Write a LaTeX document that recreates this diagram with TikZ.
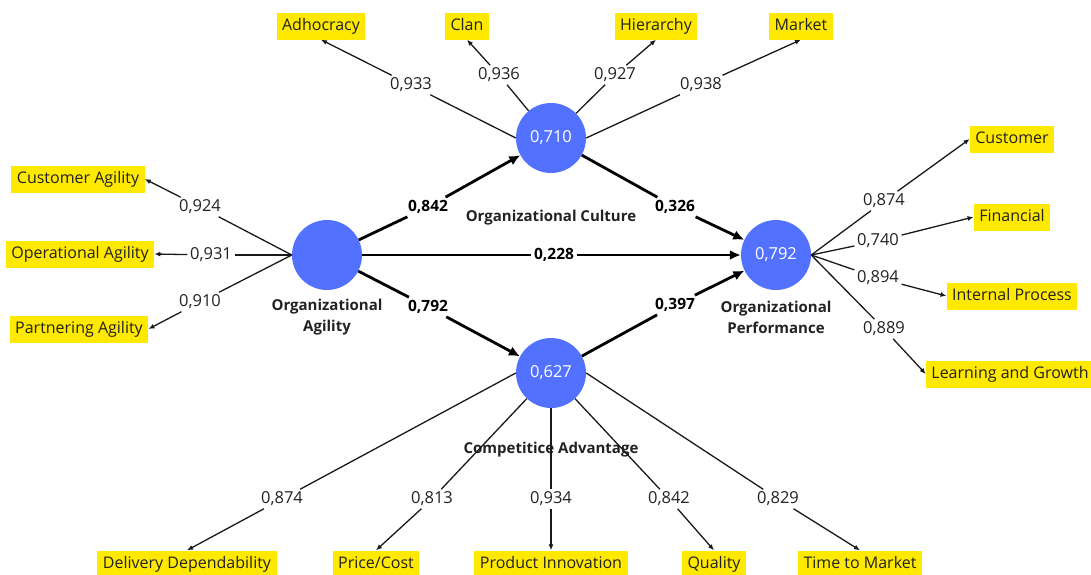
\documentclass[tikz,border=0pt]{standalone}
\usepackage{fontspec}
\setmainfont{Open Sans}
\usetikzlibrary{arrows.meta}
\definecolor{latentblue}{HTML}{5271FF}
\definecolor{itemyellow}{HTML}{FFE900}
\definecolor{ink}{HTML}{222222}

\begin{document}
\begin{tikzpicture}[x=1pt,y=-1pt,
    font=\fontsize{16}{19}\selectfont,
    latent/.style={circle,fill=latentblue,minimum size=70pt,inner sep=0pt,text=white,font=\fontsize{16.5}{19}\selectfont},
    item/.style={fill=itemyellow,text height=12pt,text depth=4pt,inner xsep=5.5pt,inner ysep=5.5pt,text=ink},
    load/.style={inner sep=2.5pt,text=ink,font=\fontsize{16.5}{19}\selectfont},
    coef/.style={inner sep=3pt,text=black,font=\fontsize{15.5}{18}\selectfont\bfseries},
    cname/.style={align=center,text=ink,font=\fontsize{15}{21}\selectfont\bfseries},
    lnk/.style={line width=1.3pt,draw=black!90},
    lnkarr/.style={lnk,-{Latex[length=6pt,width=5pt]}},
    pth/.style={line width=2.8pt,draw=black},
    patharr/.style={pth,-{Latex[length=11pt,width=10pt]}}]
    \useasboundingbox (0,0) rectangle (1091,574);

    \node[latent] (agi) at (327,255) {};
    \node[latent] (cult) at (551,138) {0,710};
    \node[latent] (perf) at (776,255) {0,792};
    \node[latent] (comp) at (551,373) {0,627};

    \node[cname] (aginame) at (327,317) {Organizational\\Agility};
    \node[cname] (cultname) at (551,218) {Organizational Culture};
    \node[cname] (perfname) at (776,317) {Organizational\\Performance};
    \node[cname] (compname) at (551,450) {Competitice Advantage};

    \node[item] (adh) at (321,26) {Adhocracy};
    \node[item] (clan) at (467,26) {Clan};
    \node[item] (hier) at (656,26) {Hierarchy};
    \node[item] (mark) at (801,26) {Market};
    \node[item] (cagi) at (78,179) {Customer Agility};
    \node[item] (oagi) at (80,254) {Operational Agility};
    \node[item] (pagi) at (79,329) {Partnering Agility};
    \node[item] (cust) at (1012,139) {Customer};
    \node[item] (fin) at (1012,217) {Financial};
    \node[item] (intp) at (1012,296) {Internal Process};
    \node[item] (lgr) at (1010,374) {Learning and Growth};
    \node[item] (deli) at (187,564) {Delivery Dependability};
    \node[item] (price) at (376,564) {Price/Cost};
    \node[item] (prod) at (551,564) {Product Innovation};
    \node[item] (qual) at (714,564) {Quality};
    \node[item] (ttm) at (860,564) {Time to Market};

    \node[load] (l1) at (411,85) {0,933};
    \node[load] (l2) at (499,75) {0,936};
    \node[load] (l3) at (615,75) {0,927};
    \node[load] (l4) at (701,85) {0,938};
    \node[load] (l5) at (200,207) {0,924};
    \node[load] (l6) at (211,255) {0,931};
    \node[load] (l7) at (200,302) {0,910};
    \node[load] (l8) at (884,201) {0,874};
    \node[load] (l9) at (878,241) {0,740};
    \node[load] (l10) at (878,278) {0,894};
    \node[load] (l11) at (884,329) {0,889};
    \node[load] (l12) at (282,499) {0,874};
    \node[load] (l13) at (432,499) {0,813};
    \node[load] (l14) at (551,499) {0,934};
    \node[load] (l15) at (669,499) {0,842};
    \node[load] (l16) at (778,499) {0,829};

    \node[coef] (c1) at (428,207) {0,842};
    \node[coef] (c2) at (675,207) {0,326};
    \node[coef] (c3) at (554,255) {0,228};
    \node[coef] (c4) at (428,307) {0,792};
    \node[coef] (c5) at (675,305) {0,397};

    \draw[lnk] (cult.west) -- (l1);
    \draw[lnkarr] (l1) -- (adh.south);
    \draw[lnk] (cult) -- (l2);
    \draw[lnkarr] (l2) -- (clan.south);
    \draw[lnk] (cult) -- (l3);
    \draw[lnkarr] (l3) -- (hier.south);
    \draw[lnk] (cult.east) -- (l4);
    \draw[lnkarr] (l4) -- (mark.south);

    \draw[lnk] (agi.west) -- (l5);
    \draw[lnkarr] (l5) -- (cagi.east);
    \draw[lnk] (agi.west) -- (l6);
    \draw[lnkarr] (l6) -- (oagi.east);
    \draw[lnk] (agi.west) -- (l7);
    \draw[lnkarr] (l7) -- (pagi.east);

    \draw[lnk] (perf.east) -- (l8);
    \draw[lnkarr] (l8) -- (cust.west);
    \draw[lnk] (perf.east) -- (l9);
    \draw[lnkarr] (l9) -- (fin.west);
    \draw[lnk] (perf.east) -- (l10);
    \draw[lnkarr] (l10) -- (intp.west);
    \draw[lnk] (perf.east) -- (l11);
    \draw[lnkarr] (l11) -- (lgr.west);

    \draw[lnk] (comp.west) -- (l12);
    \draw[lnkarr] (l12) -- (deli.north);
    \draw[lnk] (comp) -- (l13);
    \draw[lnkarr] (l13) -- (price.north);
    \draw[lnk] (comp.south) -- (l14);
    \draw[lnkarr] (l14) -- (prod.north);
    \draw[lnk] (comp) -- (l15);
    \draw[lnkarr] (l15) -- (qual.north);
    \draw[lnk] (comp.east) -- (l16);
    \draw[lnkarr] (l16) -- (ttm.north);

    \draw[pth] (agi) -- (c1);
    \draw[patharr] (c1) -- (cult);
    \draw[pth] (cult) -- (c2);
    \draw[patharr] (c2) -- (perf);
    \draw[pth] (agi) -- (c3);
    \draw[patharr] (c3) -- (perf);
    \draw[pth] (agi) -- (c4);
    \draw[patharr] (c4) -- (comp);
    \draw[pth] (comp) -- (c5);
    \draw[patharr] (c5) -- (perf);
\end{tikzpicture}
\end{document}
